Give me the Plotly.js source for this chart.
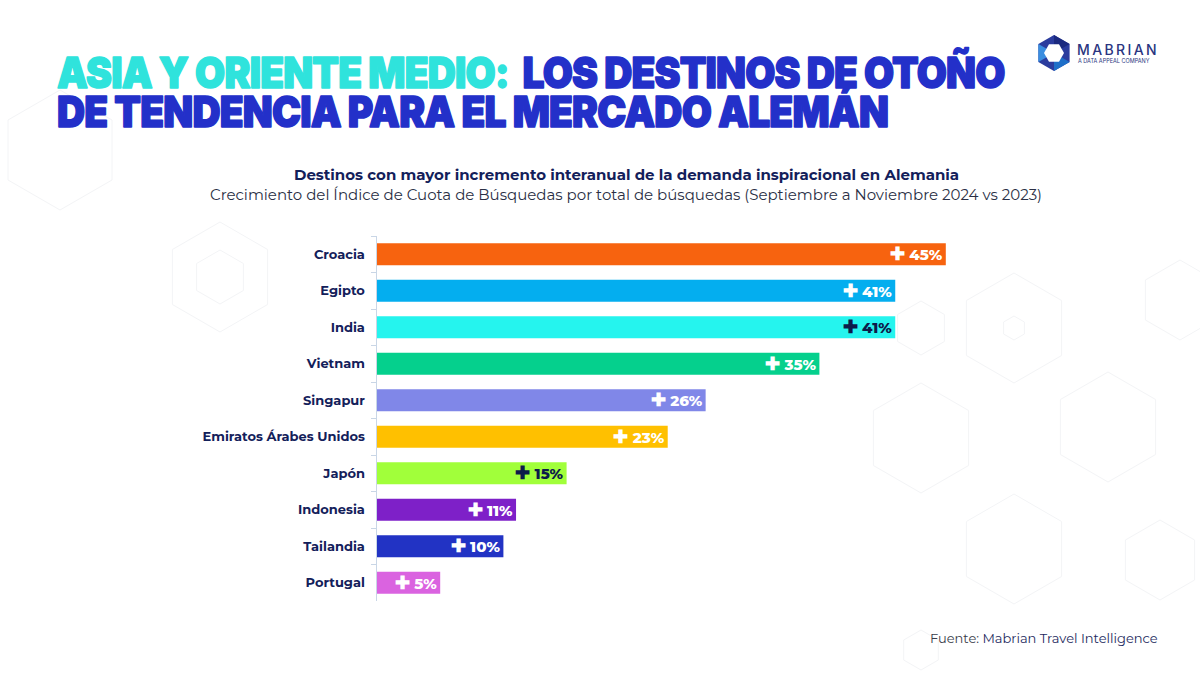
<!DOCTYPE html>
<html><head><meta charset="utf-8">
<script src="https://cdn.plot.ly/plotly-3.0.1.min.js"></script>
<style>html,body{margin:0;padding:0;background:#fff}#chart{width:1200px;height:675px}</style>
</head><body><div id="chart"></div>
<script>
const categories = ["Croacia","Egipto","India","Vietnam","Singapur","Emiratos Árabes Unidos","Japón","Indonesia","Tailandia","Portugal"];
const values = [45,41,41,35,26,23,15,11,10,5];
const barColors = ["#f7630f","#04aeef","#25f4ee","#05d08d","#8087e8","#ffc000","#a1ff3a","#7e20c8","#2233c4","#da63e0"];
const labelColors = ["#ffffff","#ffffff","#0d1b4a","#ffffff","#ffffff","#ffffff","#0d1b4a","#ffffff","#ffffff","#ffffff"];
const labels = values.map(v => "<span style='font-size:18px'>✚</span> " + v + "%");

const navy = "#13205a";
const W0 = 1200, H0 = 675;
const M = {l: 377, r: 191, t: 236, b: 74};
const PW = W0 - M.l - M.r, PH = H0 - M.t - M.b;
const px = x => (x - M.l) / PW, py = y => 1 - (y - M.t) / PH;

const trace = {
  type: "bar", orientation: "h",
  y: categories, x: values,
  marker: {color: barColors},
  width: 0.6,
  text: labels, textposition: "inside", insidetextanchor: "end", constraintext: "none",
  textfont: {family: "Montserrat, Inter, 'Open Sans', sans-serif", size: 15, weight: 800, color: labelColors},
  hoverinfo: "none", cliponaxis: false
};

function hexPath(cx, cy, r, rot){
  rot = rot === undefined ? -90 : rot;
  let p = "";
  for (let i = 0; i < 6; i++){
    const a = Math.PI / 180 * (60 * i + rot);
    p += (i === 0 ? "M" : "L") + (cx + r * Math.cos(a)).toFixed(1) + "," + (cy - r * Math.sin(a)).toFixed(1) + " ";
  }
  return p + "Z";
}
function pixShape(cx, cy, path, opts){
  return Object.assign({type: "path", xref: "paper", yref: "paper", xsizemode: "pixel", ysizemode: "pixel",
    xanchor: px(cx), yanchor: py(cy), path: path, layer: "below"}, opts);
}
const bgLine = {color: "#f3f4f6", width: 1};
const bgHexes = [
  [220, 277, 55], [220, 277, 27], [1014, 328, 55], [1014, 328, 12], [921, 328, 27],
  [1108, 427, 55], [921, 438, 55], [1014, 549, 55], [921, 650, 20],
  [60, 150, 60], [1180, 300, 40], [1160, 560, 40]
];
const shapes = bgHexes.map(h => pixShape(h[0], h[1], hexPath(0, 0, h[2], 30), {fillcolor: "rgba(0,0,0,0)", line: bgLine}));
// logo
shapes.push(pixShape(1054, 53, hexPath(0, 0, 18, 30), {fillcolor: "#2b3c9e", line: {width: 0}, layer: "above"}));
shapes.push(pixShape(1054, 53, "M0,-18 L15.6,-9 L0,0 Z", {fillcolor: "#1e6fc8", line: {width: 0}, layer: "above"}));
shapes.push(pixShape(1054, 53, "M-15.6,9 L-15.6,-9 L0,0 Z", {fillcolor: "#3a8ee0", line: {width: 0}, layer: "above"}));
shapes.push(pixShape(1054, 53, "M15.6,9 L0,18 L0,0 Z", {fillcolor: "#1b2a80", line: {width: 0}, layer: "above"}));
shapes.push(pixShape(1054, 53, hexPath(0, 0, 10, 0), {fillcolor: "#ffffff", line: {width: 0}, layer: "above"}));

const titleFont = {family: "Inter, 'Open Sans', sans-serif", size: 40, weight: 900, color: "#2330c9"};
const layout = {
  width: W0, height: H0,
  paper_bgcolor: "#ffffff", plot_bgcolor: "rgba(0,0,0,0)",
  margin: M,
  showlegend: false,
  bargap: 0.4,
  xaxis: {range: [0, 50], visible: false, fixedrange: true},
  yaxis: {
    type: "category", autorange: "reversed",
    showline: true, linecolor: "#c9d6e6", linewidth: 1.5,
    ticks: "outside", tickson: "boundaries", ticklen: 5, tickcolor: "#c9d6e6",
    tickfont: {family: "Montserrat, Inter, 'Open Sans', sans-serif", size: 13, weight: 700, color: navy},
    ticklabelstandoff: 8, showgrid: false, zeroline: false
  },
  shapes: shapes,
  annotations: [
    {xref: "paper", yref: "paper", x: px(55), y: py(50), xanchor: "left", yanchor: "top", align: "left",
     text: "<span style='color:#2fe3dc'>ASIA Y ORIENTE MEDIO:</span>  <span style='color:#2330c9'>LOS DESTINOS DE OTOÑO</span><br>DE TENDENCIA PARA EL MERCADO ALEMÁN",
     showarrow: false, font: titleFont},
    {text: "Destinos con mayor incremento interanual de la demanda inspiracional en Alemania",
     xref: "paper", yref: "paper", x: px(626), y: py(175), xanchor: "center", yanchor: "middle",
     showarrow: false, font: {family: "Montserrat, Inter, 'Open Sans', sans-serif", size: 15, weight: 700, color: navy}},
    {text: "Crecimiento del Índice de Cuota de Búsquedas por total de búsquedas (Septiembre a Noviembre 2024 vs 2023)",
     xref: "paper", yref: "paper", x: px(626), y: py(195), xanchor: "center", yanchor: "middle",
     showarrow: false, font: {family: "Montserrat, Inter, 'Open Sans', sans-serif", size: 15, weight: 400, color: "#2a2f45"}},
    {text: "<span style='color:#3a3d4a'>Fuente:</span> Mabrian Travel Intelligence",
     xref: "paper", yref: "paper", x: px(1160), y: py(638), xanchor: "right", yanchor: "middle",
     showarrow: false, font: {family: "Montserrat, Inter, 'Open Sans', sans-serif", size: 13, color: "#1e2a5e"}},
    {text: "MABRIAN", xref: "paper", yref: "paper", x: px(1075), y: py(49), xanchor: "left", yanchor: "middle", align: "left",
     showarrow: false, font: {family: "Inter, 'Open Sans', sans-serif", size: 14, weight: 500, color: "#2a3580"}},
    {text: "A DATA APPEAL COMPANY", xref: "paper", yref: "paper", x: px(1076), y: py(61), xanchor: "left", yanchor: "middle", align: "left",
     showarrow: false, font: {family: "Inter, 'Open Sans', sans-serif", size: 5.5, color: "#2a3580"}}
  ]
};
// title fitting targets: left x, width of first line, first baseline, line gap
const TITLE_LEFT = 57, TITLE_W = 948, TITLE_BASE = 88, TITLE_GAP = 39, TITLE_SY = 1.07;
Plotly.newPlot("chart", [trace], layout, {displayModeBar: false, staticPlot: true}).then(gd => {
  const svgRoot = gd.querySelector("svg.main-svg");
  gd.querySelectorAll("g.annotation").forEach(g => {
    const idx = +g.getAttribute("data-index");
    const t = g.querySelector("text.annotation-text");
    if (!t) return;
    if (idx === 0) {
      t.style.letterSpacing = "-0.8px";
      t.style.strokeLinejoin = "round";
      t.style.strokeWidth = "1.4px";
      t.style.stroke = "#2330c9";
      t.querySelectorAll("tspan").forEach(s => { const f = s.style.fill; if (f) s.style.stroke = f; });
      const lines = t.querySelectorAll("tspan.line");
      const by = parseFloat(t.getAttribute("y")) || 0;
      if (lines.length > 1) {
        lines.forEach(l => l.setAttribute("y", by));
        lines[0].setAttribute("dy", "0px");
        lines[1].setAttribute("dy", (TITLE_GAP / TITLE_SY).toFixed(2) + "px");
      }
      const bb = t.getBoundingClientRect();
      const sbb = svgRoot.getBoundingClientRect();
      const left = bb.left - sbb.left, w = bb.width;
      const s = TITLE_W / w;
      const ctm = t.getCTM();
      const lx = left - ctm.e, ltx = TITLE_LEFT - ctm.e;
      const lty = TITLE_BASE - ctm.f;
      t.setAttribute("transform", "translate(" + ltx + "," + lty + ") scale(" + s + "," + TITLE_SY + ") translate(" + (-lx) + "," + (-by) + ")");
    }
    if (idx === 4) t.style.letterSpacing = "2.4px";
  });
});
</script></body></html>
